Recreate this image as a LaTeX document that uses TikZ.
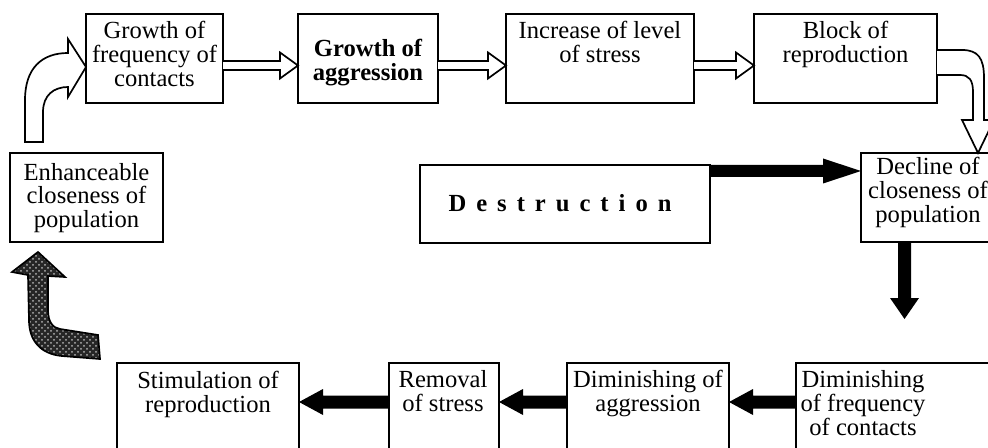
\documentclass[tikz,border=0pt]{standalone}
\usepackage{fontspec}
\setmainfont{Liberation Serif}
\usetikzlibrary{calc,patterns}
\newcommand\mkbox[5]{\node[box, minimum width={(#4-#2)*0.5pt}, minimum height={(#5-#3)*0.5pt}] (#1) at ({(#2+#4)/2},{(#3+#5)/2}) {};}
% horizontal block arrow: style, start, tip, shaft half, head half, head length
\newcommand\harrow[6]{\path[#1] let \p1=#2, \p2=#3, \n1={sign(\x2-\x1)} in
  (\x1,\y2+#4) -- ({\x2-(\n1)*(#6)},\y2+#4) -- ({\x2-(\n1)*(#6)},\y2+#5) -- (\x2,\y2)
  -- ({\x2-(\n1)*(#6)},\y2-#5) -- ({\x2-(\n1)*(#6)},\y2-#4) -- (\x1,\y2-#4);}
% vertical block arrow
\newcommand\varrow[6]{\path[#1] let \p1=#2, \p2=#3, \n1={sign(\y2-\y1)} in
  (\x2-#4,\y1) -- (\x2-#4,{\y2-(\n1)*(#6)}) -- (\x2-#5,{\y2-(\n1)*(#6)}) -- (\x2,\y2)
  -- (\x2+#5,{\y2-(\n1)*(#6)}) -- (\x2+#4,{\y2-(\n1)*(#6)}) -- (\x2+#4,\y1);}
\begin{document}
\begin{tikzpicture}[x=0.5pt,y=-0.5pt,
  box/.style={draw, line width=0.85pt, inner sep=0pt, outer sep=0pt},
  txt/.style={align=center, anchor=base, inner sep=0pt, font=\fontsize{12.3pt}{12pt}\selectfont},
  btxt/.style={txt, font=\fontsize{12.3pt}{12pt}\selectfont\bfseries},
  warrow/.style={draw, line width=0.85pt, fill=white, line join=miter},
  barrow/.style={fill=black},
]
\clip (0,0) rectangle (988,448);
\fill[white] (0,0) rectangle (988,448);
% boxes
\mkbox{b1}{86}{14}{223}{103}
\mkbox{b2}{298}{14}{438}{103}
\mkbox{b3}{506}{14}{694}{103}
\mkbox{b4}{754}{14}{937}{103}
\mkbox{dec}{861}{153}{995}{242}
\mkbox{destr}{420}{165}{710}{243}
\mkbox{enh}{10}{153}{163}{242}
\mkbox{stim}{117}{363}{299}{456}
\mkbox{rem}{389}{363}{499}{456}
\mkbox{dag}{567}{363}{729}{456}
\mkbox{dfr}{796}{363}{996}{456}
% texts (anchor = baseline of the last line)
\node[txt] (t1) at (154.5,87) {Growth of\\frequency of\\contacts};
\node[btxt] (t2) at (368,81) {Growth of\\aggression};
\node[txt] (t3) at (600,63) {Increase of level\\of stress};
\node[txt] (t4) at (845.5,63) {Block of\\reproduction};
\node[txt] (tdec) at (928,223) {Decline of\\closeness of\\population};
\node[txt] (tenh) at (86.5,228) {Enhanceable\\closeness of\\population};
\node[btxt] (tdestr) at (560,212) {D\kern5pt e\kern5pt s\kern5pt t\kern5pt r\kern5pt u\kern5pt c\kern5pt t\kern5pt i\kern5pt o\kern5pt n};
\node[txt] (tstim) at (208,412) {Stimulation of\\reproduction};
\node[txt] (trem) at (443,411) {Removal\\of stress};
\node[txt] (tdag) at (648,411) {Diminishing of\\aggression};
\node[txt] (tdfr) at (863,435) {Diminishing\\of frequency\\of contacts};
% top white arrows
\harrow{warrow}{(b1.east)}{($(b2.west)+(0,7)$)}{2.25pt}{6.5pt}{9pt}
\harrow{warrow}{(b2.east)}{($(b3.west)+(0,7)$)}{2.25pt}{6.5pt}{9pt}
\harrow{warrow}{(b3.east)}{($(b4.west)+(0,7)$)}{2.25pt}{6.5pt}{9pt}
% curved white arrow block -> decline
\draw[warrow] (b4.east |- 0,50) -- (962,50) .. controls (978,50) and (984,58) .. (984,78) -- (984,120) -- (994,120) -- (978,153) -- (962,120) -- (973,120) -- (973,92) .. controls (973,80) and (969,75) .. (960,75) -- (b4.east |- 0,75);
% curved white arrow enhanceable -> growth of frequency
\draw[warrow] (25,142) -- (25,100) .. controls (25,68) and (42,53) .. (68,53) -- (68,39) -- (b1.west |- 0,67) -- (68,97) -- (68,87) .. controls (54,87) and (43,95) .. (43,112) -- (43,142) -- cycle;
% destruction arrow
\harrow{barrow}{(destr.east)}{($(dec.west)+(0,-26.5)$)}{3pt}{6.25pt}{19pt}
% down arrow
\coordinate (dtip) at (904.5,319);
\varrow{barrow}{(dec.south)}{(dtip)}{3.25pt}{7.25pt}{10.5pt}
% bottom black arrows
\harrow{barrow}{(dfr.west)}{($(dag.east)+(0,-7.5)$)}{3.25pt}{6.5pt}{12pt}
\harrow{barrow}{(dag.west)}{($(rem.east)+(0,-7.5)$)}{3.25pt}{6.5pt}{12pt}
\harrow{barrow}{(rem.west)}{($(stim.east)+(0,-7.5)$)}{3.25pt}{6.5pt}{12pt}
% patterned curved arrow
\path[draw=black, line width=0.85pt, line join=miter, preaction={fill=black!85}, pattern=crosshatch dots, pattern color=gray!60]
  (38,252) -- (65,277) -- (48,276) -- (48,310) .. controls (48,322) and (53,328) .. (60,329) -- (98,335) -- (100,359) -- (62,356) .. controls (40,354) and (29,340) .. (29,320) -- (28,275) -- (12,272) -- cycle;
\end{tikzpicture}
\end{document}
